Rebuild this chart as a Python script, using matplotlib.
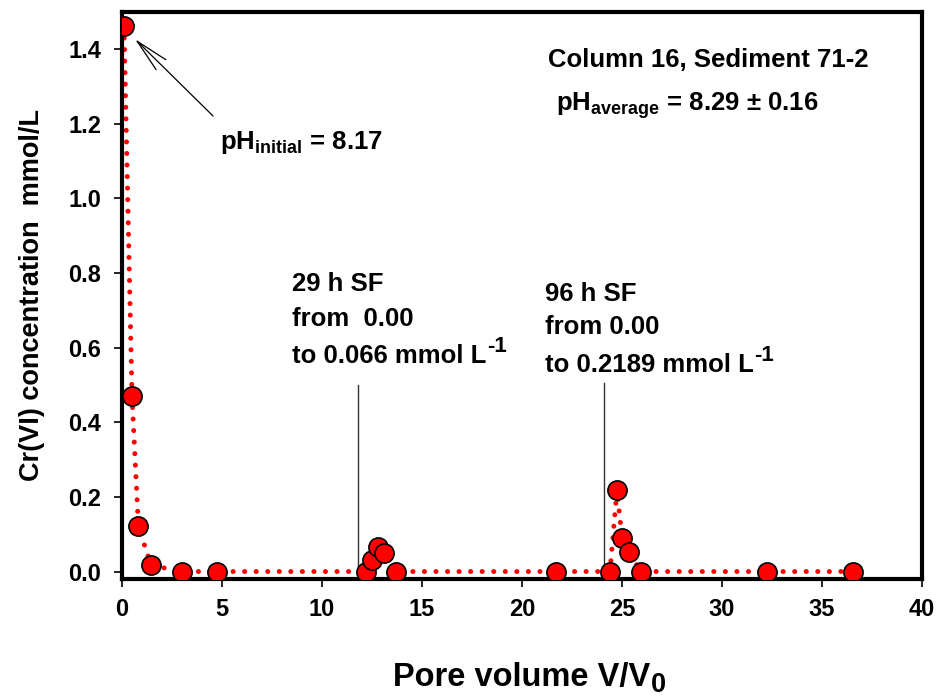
import matplotlib.pyplot as plt

plt.rcParams['font.family'] = ['Liberation Sans', 'DejaVu Sans']
plt.rcParams['font.weight'] = 'bold'
plt.rcParams['axes.labelweight'] = 'bold'
plt.rcParams['mathtext.fontset'] = 'custom'
plt.rcParams['mathtext.rm'] = 'Liberation Sans:bold'
plt.rcParams['mathtext.bf'] = 'Liberation Sans:bold'
plt.rcParams['mathtext.it'] = 'Liberation Sans:bold'
plt.rcParams['mathtext.default'] = 'bf'

# Cr(VI) breakthrough, column 16
pore_volume = [0.1, 0.5, 0.82, 1.45, 2.98, 4.77, 12.18, 12.48, 12.78, 13.12, 13.7,
               21.7, 24.4, 24.75, 25.0, 25.35, 25.95, 32.25, 36.55]
cr_conc = [1.461, 0.47, 0.121, 0.017, 0.0, 0.0, 0.0, 0.032, 0.066, 0.051, 0.0,
           0.0, 0.0, 0.2189, 0.09, 0.052, 0.0, 0.0, 0.0]

# stop-flow events (pore volume)
sf_events = [11.8, 24.1]
sf_line_tops = [0.50, 0.505]

fig = plt.figure(figsize=(9.4, 6.98), dpi=100)
ax = fig.add_axes([0.1298, 0.1705, 0.851, 0.8125])

ax.plot(pore_volume, cr_conc, color='red', linestyle=(0, (0.01, 2.3)), linewidth=3.6,
        dash_capstyle='round', zorder=2)
ax.plot(pore_volume, cr_conc, linestyle='none', marker='o', markersize=13.8,
        markerfacecolor='red', markeredgecolor='black', markeredgewidth=1.2, zorder=3)

for x, top in zip(sf_events, sf_line_tops):
    ax.plot([x, x], [0, top], color='#333333', linewidth=1, zorder=1)

ax.set_xlim(0, 40)
ax.set_ylim(-0.02, 1.5)
ax.set_xticks(range(0, 41, 5))
ax.set_yticks([0.0, 0.2, 0.4, 0.6, 0.8, 1.0, 1.2, 1.4])
ax.set_yticklabels(['0.0', '0.2', '0.4', '0.6', '0.8', '1.0', '1.2', '1.4'])
for s in ax.spines.values():
    s.set_linewidth(3)
ax.tick_params(direction='out', length=6, width=1.2, labelsize=17, pad=9)
ax.tick_params(axis='x', pad=8)

ax.set_ylabel('Cr(VI) concentration  mmol/L', fontsize=19.5, labelpad=17)

# x label with a full-size subscript
xl = ax.text(0.339, -0.1887, 'Pore volume V/V', fontsize=23.5, fontweight='bold',
             transform=ax.transAxes, va='baseline', ha='left')
ax.annotate('0', xy=(1, -0.1887), xycoords=(xl, 'axes fraction'), xytext=(0.5, -4.3),
            textcoords='offset points', fontsize=19.5, va='baseline', ha='left')


def text_sup(x, y, s, sup):
    t = ax.text(x, y, s, fontsize=18.5, va='baseline')
    ax.annotate(sup, xy=(1, y), xycoords=(t, 'data'), xytext=(0.5, 8),
                textcoords='offset points', fontsize=16, va='baseline', ha='left')


# arrow pointing at the first sample
ax.annotate('', xy=(0.65, 1.427), xytext=(4.55, 1.221),
            arrowprops=dict(arrowstyle='->, head_length=1.2, head_width=0.25',
                            color='black', lw=0.9, mutation_scale=20,
                            shrinkA=0, shrinkB=0))
ax.text(4.9, 1.133, 'pH$_{initial}$ = 8.17', fontsize=18.5, va='baseline')

ax.text(21.3, 1.352, 'Column 16, Sediment 71-2', fontsize=18.5, va='baseline')
ax.text(21.7, 1.234, 'pH$_{average}$ = 8.29 ± 0.16', fontsize=18.5, va='baseline')

ax.text(8.5, 0.753, '29 h SF', fontsize=18.5, va='baseline')
ax.text(8.5, 0.657, 'from  0.00', fontsize=18.5, va='baseline')
text_sup(8.5, 0.558, 'to 0.066 mmol L', '-1')

ax.text(21.15, 0.724, '96 h SF', fontsize=18.5, va='baseline')
ax.text(21.15, 0.636, 'from 0.00', fontsize=18.5, va='baseline')
text_sup(21.15, 0.534, 'to 0.2189 mmol L', '-1')

fig.savefig('out.png', dpi=100)
